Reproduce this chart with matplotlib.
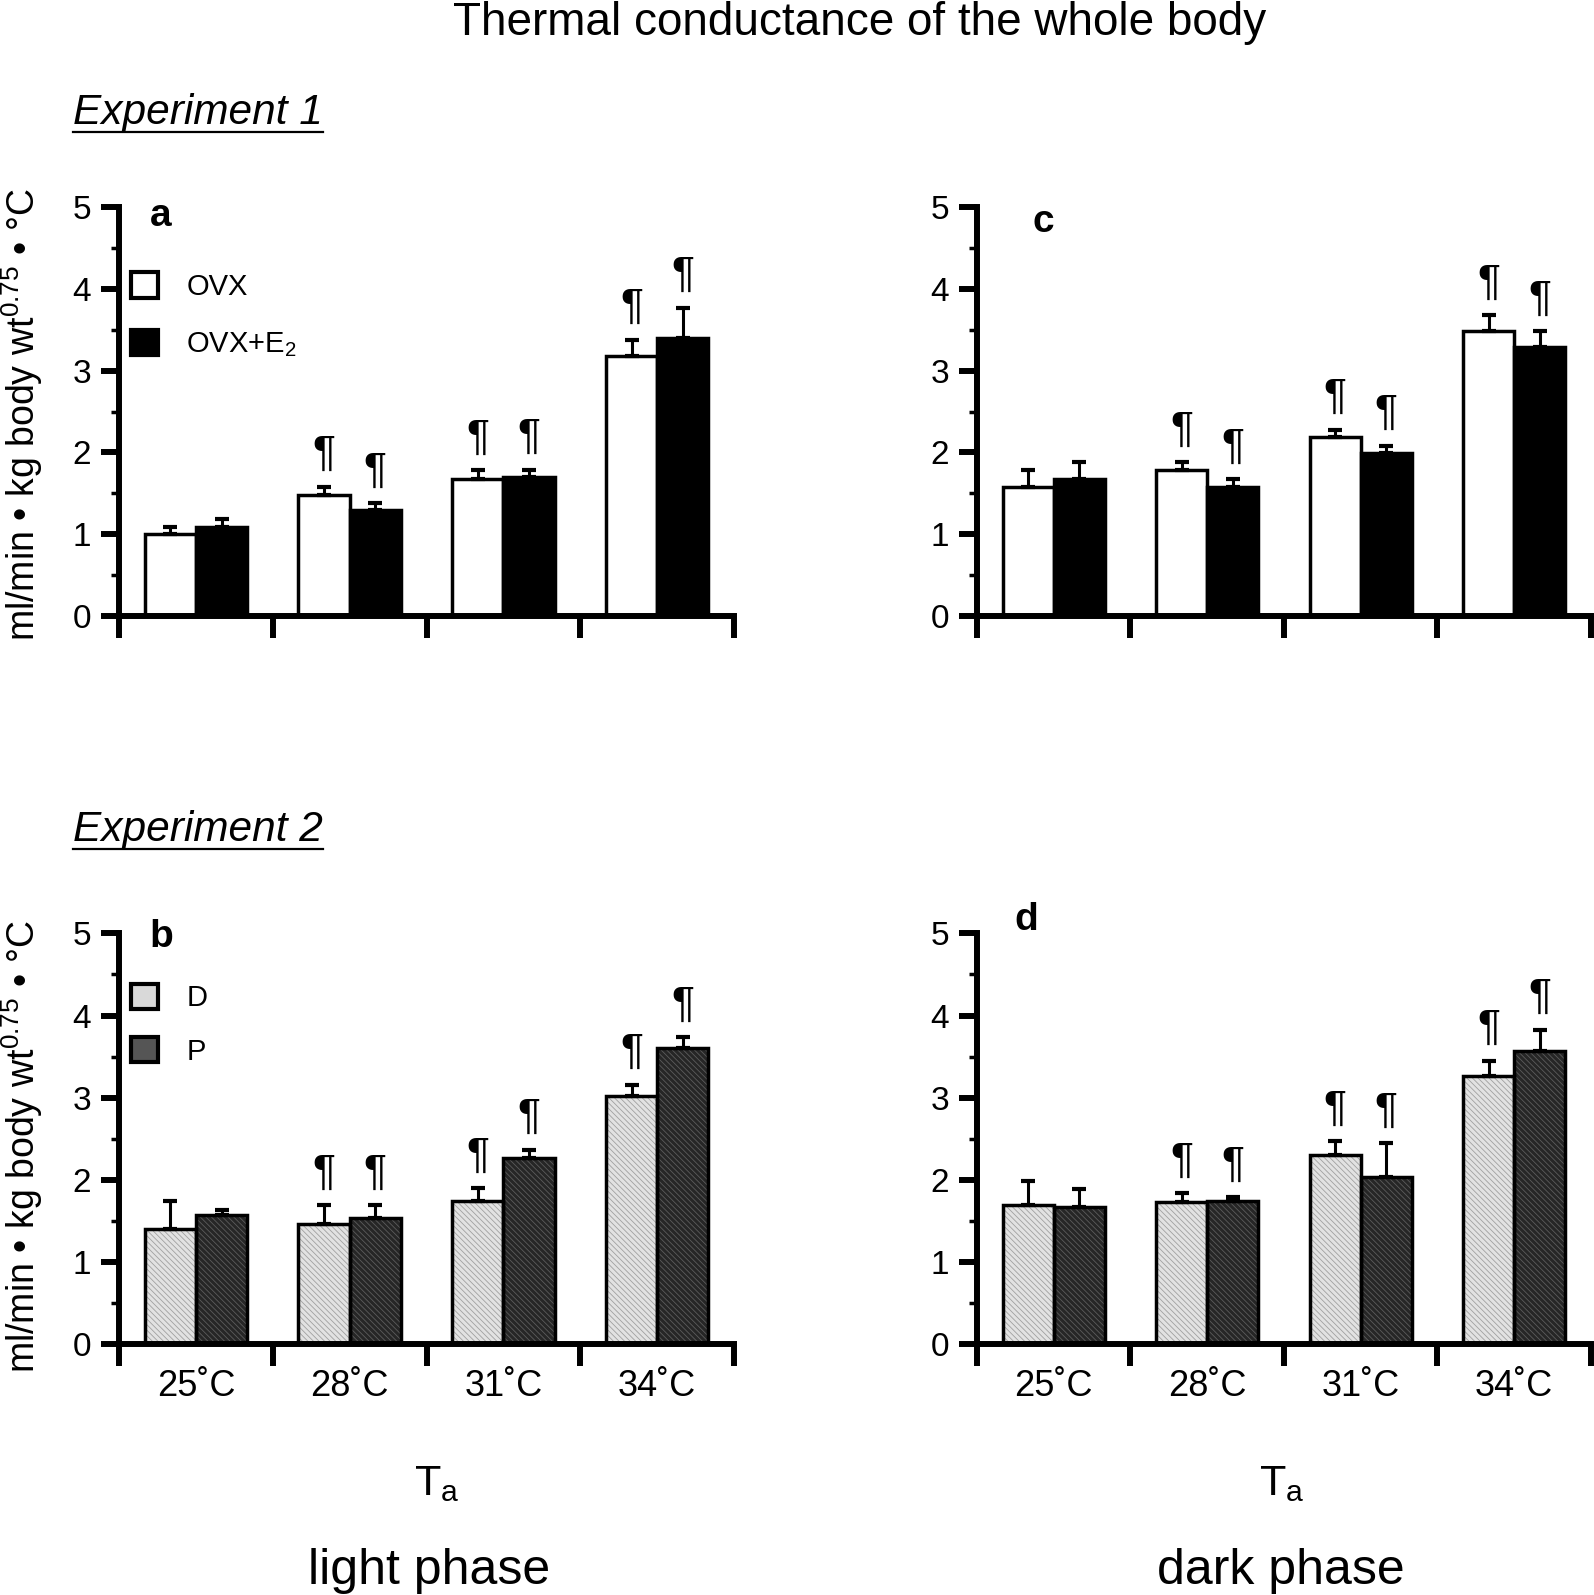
import numpy as np
import matplotlib
matplotlib.use("Agg")
import matplotlib.pyplot as plt
from matplotlib.patches import Patch
from matplotlib.lines import Line2D

plt.rcParams['font.family'] = ['Liberation Sans', 'DejaVu Sans']
plt.rcParams['mathtext.fontset'] = 'custom'
plt.rcParams['mathtext.rm'] = 'Liberation Sans'
plt.rcParams['mathtext.it'] = 'Liberation Sans:italic'
plt.rcParams['mathtext.bf'] = 'Liberation Sans:bold'
plt.rcParams['hatch.linewidth'] = 0.6

temps = ['25˚C', '28˚C', '31˚C', '34˚C']

# Experiment 1: OVX vs OVX+E2, light phase (a) and dark phase (c)
ovx_light = [1.00, 1.48, 1.68, 3.18]
ovx_light_err = [0.09, 0.10, 0.10, 0.20]
e2_light = [1.09, 1.30, 1.70, 3.40]
e2_light_err = [0.09, 0.08, 0.09, 0.37]
ovx_dark = [1.58, 1.79, 2.19, 3.48]
ovx_dark_err = [0.20, 0.09, 0.09, 0.20]
e2_dark = [1.68, 1.58, 1.99, 3.29]
e2_dark_err = [0.20, 0.09, 0.09, 0.19]

# Experiment 2: D vs P, light phase (b) and dark phase (d)
d_light = [1.40, 1.47, 1.74, 3.02]
d_light_err = [0.34, 0.22, 0.16, 0.14]
p_light = [1.57, 1.54, 2.27, 3.60]
p_light_err = [0.06, 0.15, 0.10, 0.14]
d_dark = [1.69, 1.73, 2.30, 3.26]
d_dark_err = [0.30, 0.11, 0.17, 0.19]
p_dark = [1.67, 1.75, 2.04, 3.57]
p_dark_err = [0.22, 0.04, 0.41, 0.26]

# pilcrow marks (different from 25 C)
sig = [False, True, True, True]

W = 1/3
AXW = 4.3


def draw_bars(ax, x, vals, err, kind):
    if kind == 'white':
        ax.bar(x, vals, W, color='white', edgecolor='black', linewidth=2.5, zorder=2)
    elif kind == 'black':
        ax.bar(x, vals, W, color='black', edgecolor='black', linewidth=2.5, zorder=2)
    elif kind == 'light':
        ax.bar(x, vals, W, color='#e2e2e2', hatch='\\\\\\\\\\\\', edgecolor='#a0a0a0',
               linewidth=0, zorder=2)
        ax.bar(x, vals, W, fill=False, edgecolor='black', linewidth=2.5, zorder=2.5)
    else:
        ax.bar(x, vals, W, color='#262626', hatch='\\\\\\\\\\\\', edgecolor='#5c5c5c',
               linewidth=0, zorder=2)
        ax.bar(x, vals, W, fill=False, edgecolor='black', linewidth=2.5, zorder=2.5)
    ax.errorbar(x, vals, yerr=[np.zeros(len(vals)), err], fmt='none', ecolor='black',
                elinewidth=2.2, capsize=4.8, capthick=3, zorder=3)
    for xi, v, e, s in zip(x, vals, err, sig):
        if s:
            ax.annotate('¶', (xi, v + e), xytext=(0, 9), textcoords='offset points',
                        ha='center', va='bottom', fontsize=31)


def draw_panel(ax, left, left_err, right, right_err, kinds, letter, letter_xy, show_x):
    x = np.arange(len(temps)) + 0.5
    draw_bars(ax, x - W / 2, left, left_err, kinds[0])
    draw_bars(ax, x + W / 2, right, right_err, kinds[1])

    ax.set_xlim(0, 4)
    ax.set_ylim(0, 5)
    ax.spines[['top', 'right']].set_visible(False)
    for s in ['left', 'bottom']:
        ax.spines[s].set_linewidth(AXW)
        ax.spines[s].set_zorder(4)
    ax.set_xticks([0, 1, 2, 3, 4])
    ax.set_xticklabels([])
    ax.tick_params(axis='x', which='major', direction='out', length=16, width=AXW)
    if show_x:
        ax.set_xticks(x, temps, minor=True)
        ax.tick_params(axis='x', which='minor', length=0, pad=18, labelsize=26)
    ax.set_yticks(range(6))
    ax.set_yticks(np.arange(0.5, 5, 1), minor=True)
    ax.tick_params(axis='y', which='major', length=13, width=AXW, labelsize=24, pad=7)
    ax.tick_params(axis='y', which='minor', length=6, width=2.5)
    ax.text(letter_xy[0], letter_xy[1], letter, transform=ax.transAxes, ha='center',
            va='center', fontsize=28, fontweight='bold')


fig = plt.figure(figsize=(15.94, 15.95), dpi=100)
ax_a = fig.add_axes([0.0747, 0.6138, 0.3858, 0.2564])
ax_c = fig.add_axes([0.6129, 0.6138, 0.3852, 0.2564])
ax_b = fig.add_axes([0.0747, 0.1571, 0.3858, 0.2577])
ax_d = fig.add_axes([0.6129, 0.1571, 0.3852, 0.2577])

draw_panel(ax_a, ovx_light, ovx_light_err, e2_light, e2_light_err, ('white', 'black'),
           'a', (0.067, 0.978), False)
draw_panel(ax_c, ovx_dark, ovx_dark_err, e2_dark, e2_dark_err, ('white', 'black'),
           'c', (0.1075, 0.963), False)
draw_panel(ax_b, d_light, d_light_err, p_light, p_light_err, ('light', 'dark'),
           'b', (0.068, 0.991), True)
draw_panel(ax_d, d_dark, d_dark_err, p_dark, p_dark_err, ('light', 'dark'),
           'd', (0.081, 1.032), True)

leg_kw = dict(loc='upper left', frameon=False, fontsize=21, handlelength=0.95,
              handleheight=0.95, handletextpad=0.95, borderpad=0, borderaxespad=0)
ax_a.legend([Patch(facecolor='white', edgecolor='black', linewidth=3),
             Patch(facecolor='black', edgecolor='black', linewidth=3)],
            ['OVX', 'OVX+E$_2$'], bbox_to_anchor=(0.019, 0.84), labelspacing=0.98,
            **leg_kw)
ax_b.legend([Patch(facecolor='#d9d9d9', edgecolor='black', linewidth=3),
             Patch(facecolor='#555555', edgecolor='black', linewidth=3)],
            ['D', 'P'], bbox_to_anchor=(0.019, 0.878), labelspacing=0.86, **leg_kw)

ylab = 'ml/min • kg body wt$^{0.75}$ • °C'
fig.text(0.014, 0.740, ylab, rotation=90, ha='center', va='center', fontsize=27)
fig.text(0.014, 0.281, ylab, rotation=90, ha='center', va='center', fontsize=27)

fig.text(0.5395, 0.978, 'Thermal conductance of the whole body', ha='center',
         va='baseline', fontsize=33)
exp1 = fig.text(0.0458, 0.9223, 'Experiment 1', ha='left', va='baseline',
                fontsize=30.5, style='italic')
exp2 = fig.text(0.0458, 0.4727, 'Experiment 2', ha='left', va='baseline',
                fontsize=30.5, style='italic')

fig.text(0.274, 0.0624, 'T$_{\\mathrm{a}}$', ha='center', va='baseline', fontsize=31)
fig.text(0.804, 0.0624, 'T$_{\\mathrm{a}}$', ha='center', va='baseline', fontsize=31)
fig.text(0.269, 0.0069, 'light phase', ha='center', va='baseline', fontsize=36)
fig.text(0.8036, 0.0069, 'dark phase', ha='center', va='baseline', fontsize=36)

# underline the experiment headings
fig.canvas.draw()
inv = fig.transFigure.inverted()
for t, y in [(exp1, 0.9172), (exp2, 0.4674)]:
    bb = t.get_window_extent()
    x0, _ = inv.transform((bb.x0, bb.y0))
    x1, _ = inv.transform((bb.x1, bb.y0))
    fig.add_artist(Line2D([x0, x1], [y, y], transform=fig.transFigure, color='black',
                          linewidth=1.6))

fig.savefig('out.png', dpi=100)
